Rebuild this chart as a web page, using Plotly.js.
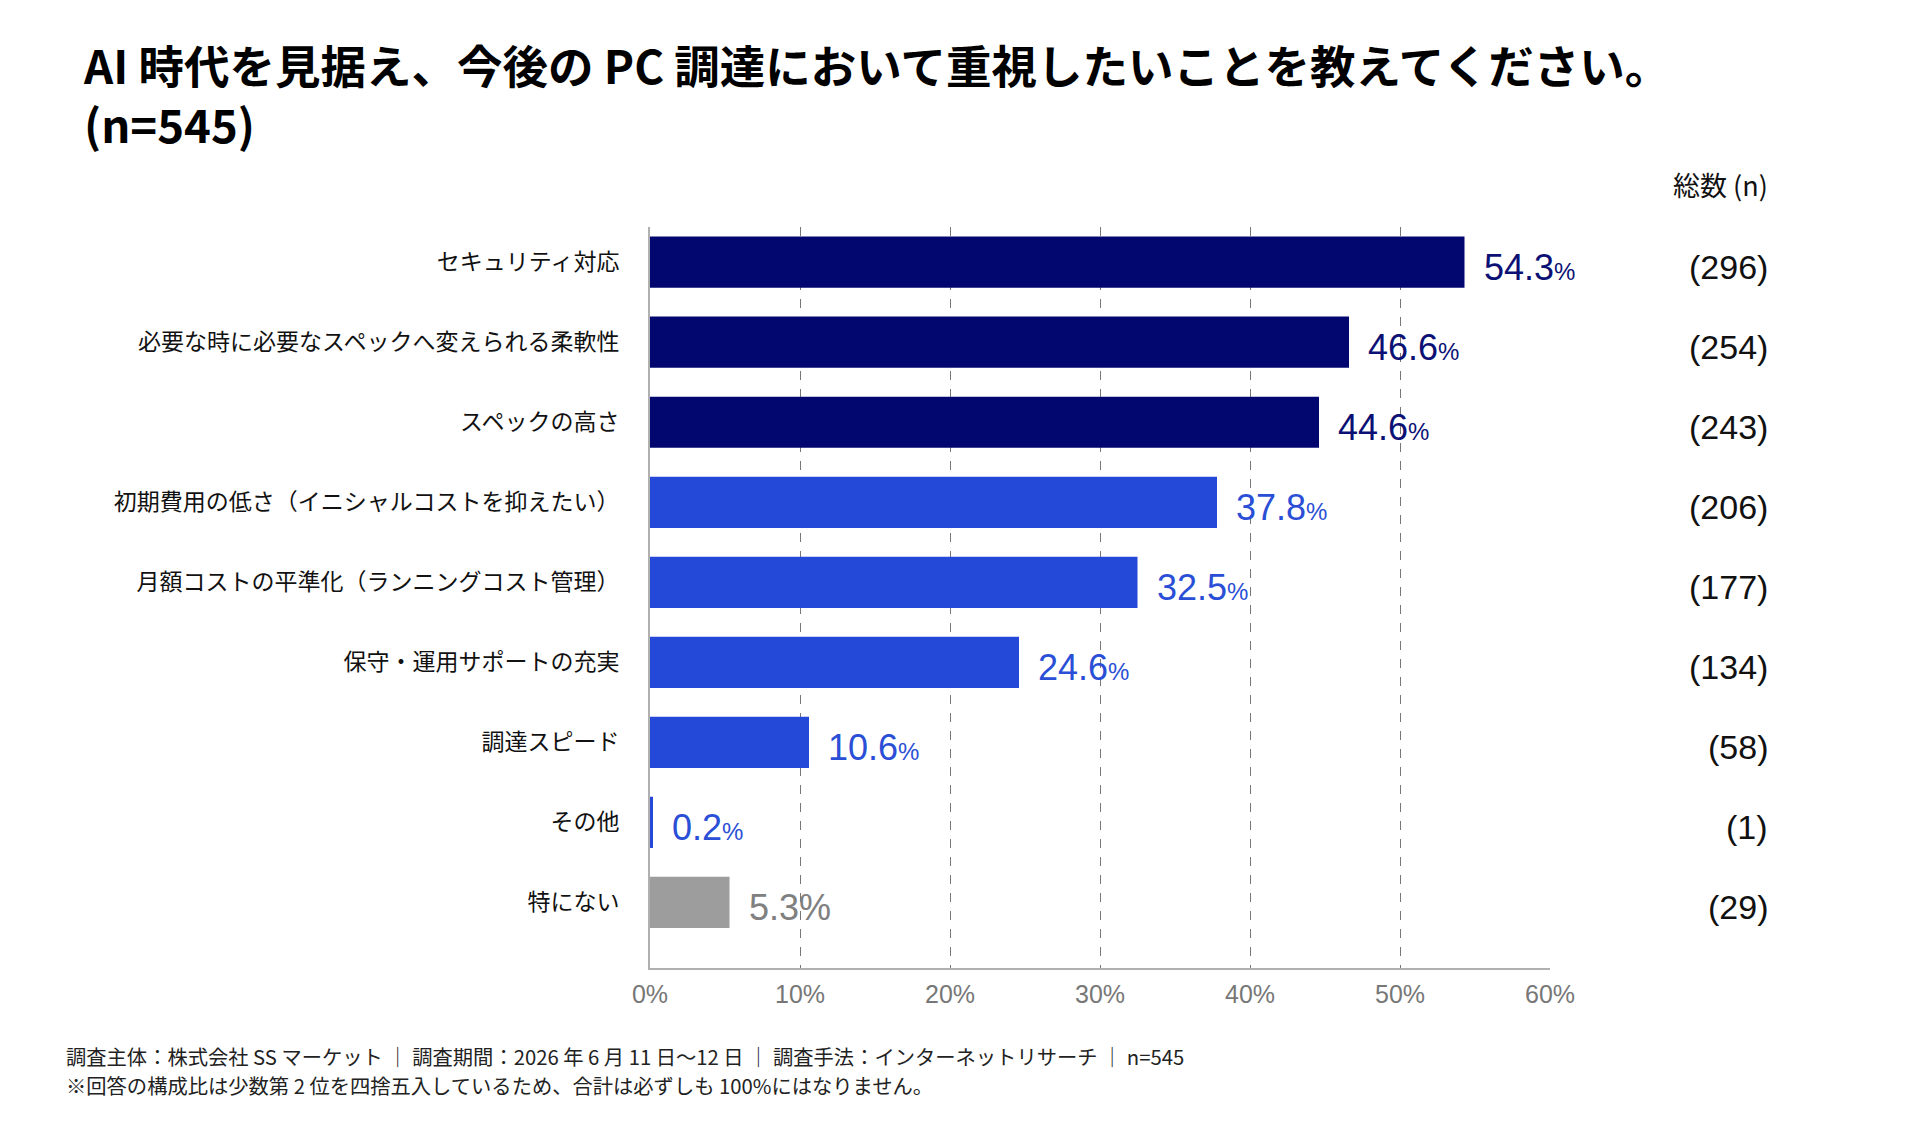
<!DOCTYPE html>
<html>
<head>
<meta charset="utf-8">
<script src="https://cdn.plot.ly/plotly-3.0.1.min.js"></script>
<style>
  html, body { margin: 0; padding: 0; background: #fff; }
  #chart { width: 1921px; height: 1126px; }
</style>
</head>
<body>
<div id="chart"></div>
<script>
// Survey answers, top to bottom
const categories = [
  'セキュリティ対応',
  '必要な時に必要なスペックへ変えられる柔軟性',
  'スペックの高さ',
  '初期費用の低さ（イニシャルコストを抑えたい）',
  '月額コストの平準化（ランニングコスト管理）',
  '保守・運用サポートの充実',
  '調達スピード',
  'その他',
  '特にない'
];
const percents = [54.3, 46.6, 44.6, 37.8, 32.5, 24.6, 10.6, 0.2, 5.3];
const counts = [296, 254, 243, 206, 177, 134, 58, 1, 29];
// colour group per answer: top three, others, "none"
const groups = ['top', 'top', 'top', 'mid', 'mid', 'mid', 'mid', 'mid', 'none'];
const xTicks = [0, 10, 20, 30, 40, 50, 60];

const titleLines = [
  'AI 時代を見据え、今後の PC 調達において重視したいことを教えてください。',
  '(n=545)'
];
const footnotes = [
  '調査主体：株式会社 SS マーケット ｜ 調査期間：2026 年 6 月 11 日〜12 日 ｜ 調査手法：インターネットリサーチ ｜ n=545',
  '※回答の構成比は少数第 2 位を四捨五入しているため、合計は必ずしも 100%にはなりません。'
];

const barColor = { top: '#02076f', mid: '#2449d8', none: '#9d9d9d' };
const labelColor = { top: '#0b1174', mid: '#2a4fd6', none: '#808080' };

const JP = '"Noto Sans CJK JP", "Noto Sans", sans-serif';
const NUM = '"Liberation Sans", Arial, sans-serif';

const trace = {
  type: 'bar',
  orientation: 'h',
  x: percents,
  y: categories,
  width: 0.64,
  marker: { color: groups.map(g => barColor[g]), line: { width: 0 } },
  hoverinfo: 'skip'
};

const annotations = [];

// value labels next to each bar
percents.forEach((v, i) => {
  const g = groups[i];
  const txt = g === 'none'
    ? '<span style="font-size:36px">' + v.toFixed(1) + '%</span>'
    : '<span style="font-size:36px">' + v.toFixed(1) + '</span><span style="font-size:24px">%</span>';
  annotations.push({
    x: v, y: categories[i], xref: 'x', yref: 'y',
    text: txt, showarrow: false,
    xanchor: 'left', yanchor: 'middle', xshift: 17, yshift: -5,
    font: { family: NUM, size: 36, color: labelColor[g] }
  });
});

// respondent counts column
counts.forEach((c, i) => {
  annotations.push({
    x: 1.2445, y: categories[i], xref: 'paper', yref: 'y',
    text: '(' + c + ')', showarrow: false,
    xanchor: 'right', yanchor: 'middle', yshift: -5,
    font: { family: NUM, size: 34, color: '#111' }
  });
});

annotations.push({
  x: 1.2445, y: 1.058, xref: 'paper', yref: 'paper',
  text: '総数 (n)', showarrow: false, xanchor: 'right', yanchor: 'middle',
  font: { family: JP, size: 27, color: '#111' }
});

// chart title, two lines
annotations.push({
  x: -0.632, y: 1.1808, xref: 'paper', yref: 'paper',
  text: '<b>' + titleLines.join('<br>') + '</b>', showarrow: false,
  xanchor: 'left', yanchor: 'middle', align: 'left',
  font: { family: JP, size: 45.5, color: '#000' }
});

// footnotes
[-0.1188, -0.1579].forEach((yy, i) => {
  annotations.push({
    x: -0.651, y: yy, xref: 'paper', yref: 'paper',
    text: footnotes[i], showarrow: false,
    xanchor: 'left', yanchor: 'middle',
    font: { family: JP, size: 20.3, color: '#222' }
  });
});

const layout = {
  width: 1921,
  height: 1126,
  paper_bgcolor: '#fff',
  plot_bgcolor: '#fff',
  margin: { l: 650, r: 371, t: 227, b: 158 },
  showlegend: false,
  xaxis: {
    range: [0, 60],
    tickvals: xTicks,
    ticktext: xTicks.map(t => t + '%'),
    showgrid: true,
    gridcolor: '#777',
    griddash: 'dash',
    gridwidth: 1,
    zeroline: false,
    showline: true,
    linecolor: '#b0b0b0',
    linewidth: 2,
    ticks: '',
    ticklabelstandoff: 3,
    tickfont: { family: NUM, size: 25, color: '#777' },
    fixedrange: true
  },
  yaxis: {
    type: 'category',
    range: [8.82, -0.44],
    showgrid: false,
    zeroline: false,
    showline: true,
    linecolor: '#b0b0b0',
    linewidth: 2,
    ticks: '',
    ticklabelstandoff: 24,
    tickfont: { family: JP, size: 23, color: '#111' },
    fixedrange: true
  },
  annotations: annotations,
  bargap: 0.36
};

Plotly.newPlot('chart', [trace], layout, { displayModeBar: false, staticPlot: true });
</script>
</body>
</html>
